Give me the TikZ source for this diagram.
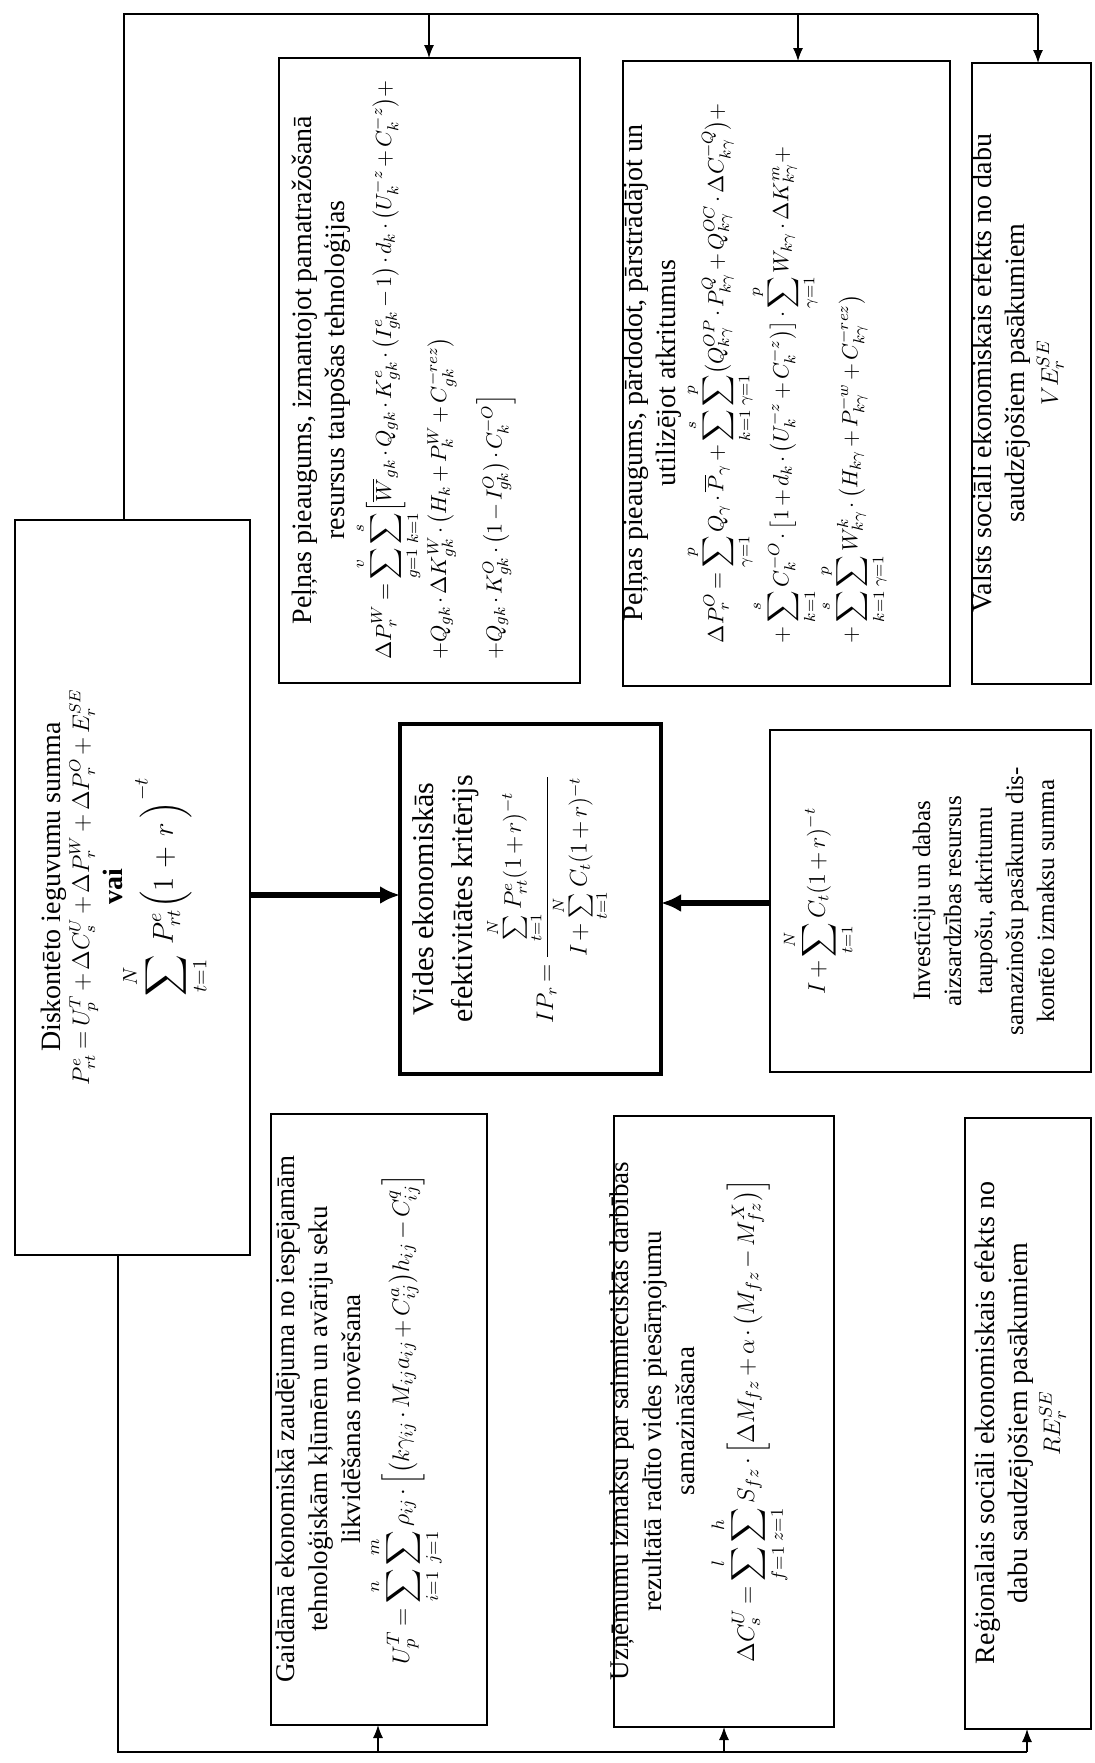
\documentclass[tikz,border=0pt]{standalone}
\usepackage{amsmath}
\usepackage{fontspec}
\setmainfont{Liberation Serif}
\usetikzlibrary{arrows.meta}
\newcommand{\fmA}{\fontsize{11}{13.5}\selectfont}
\newcommand{\fmE}{\fontsize{13}{15.5}\selectfont}
\newcommand{\fmI}{\fontsize{11.5}{14}\selectfont}
\newcommand{\fmP}{\fontsize{12}{14.5}\selectfont}
\begin{document}
\begin{tikzpicture}[x=0.5pt,y=0.5pt,
  box/.style={draw=black,line width=0.8pt,inner sep=0pt,outer sep=0pt},
  mainbox/.style={draw=black,line width=2.2pt,inner sep=0pt,outer sep=0pt},
  txt/.style={rotate=90,align=center,inner sep=0pt,font=\fontsize{14}{16.5}\selectfont},
  fb/.style={draw=black,line width=0.6pt},
  fbarr/.style={fb,-{Latex[length=6.5pt,width=5pt]}},
  bigarr/.style={draw=black,line width=2.6pt,-{Latex[length=10pt,width=9pt]}}
]
\medmuskip=2.5mu plus 1mu minus 1mu
\thickmuskip=3.5mu plus 2mu
\useasboundingbox (0,0) rectangle (1094,-1763);
\fill[white] (0,0) rectangle (1094,-1763);

% boxes
\node[box,minimum width=117.5pt,minimum height=367.5pt] (P) at (132.5,-887.5) {};
\node[box,minimum width=150.5pt,minimum height=312.5pt] (A) at (429.5,-370.5) {};
\node[box,minimum width=163.5pt,minimum height=312.5pt] (B) at (786.5,-373.5) {};
\node[box,minimum width=59.5pt,minimum height=310.5pt] (C) at (1031.5,-373.5) {};
\node[mainbox,minimum width=130.5pt,minimum height=175pt] (IP) at (530.5,-899) {};
\node[box,minimum width=160.5pt,minimum height=171pt] (D) at (930.5,-901) {};
\node[box,minimum width=108pt,minimum height=305.5pt] (E) at (379,-1419.5) {};
\node[box,minimum width=110pt,minimum height=305.5pt] (F) at (724,-1421.5) {};
\node[box,minimum width=63pt,minimum height=305.5pt] (G) at (1028,-1423.5) {};

% texts
\node[txt] (Ptxt) at (125,-887) {Diskontēto ieguvumu summa\\[-2pt]
{\fmP$P^{e}_{rt}=U^{T}_{p}+\Delta C^{U}_{s}+\Delta P^{W}_{r}+\Delta P^{O}_{r}+E^{SE}_{r}$}\\[0pt]
\textbf{vai}\\[-2pt]
{\fontsize{14}{17}\selectfont$\displaystyle\sum_{t=1}^{N}\; P^{e}_{rt}\Bigl(1\;+\;r\,\Bigr)^{-t}$}};

\node[txt] (Atxt) at (404,-370) {Peļņas pieaugums, izmantojot pamatražošanā\\
resursus taupošas tehnoloģijas\\[1pt]
{\fmA\begin{tabular}{@{}l@{}}
$\displaystyle \Delta P^{W}_{r}=\sum_{g=1}^{v}\sum_{k=1}^{s}\Bigl[\overline{W}_{gk}\cdot Q_{gk}\cdot K^{e}_{gk}\cdot\bigl(I^{e}_{gk}-1\bigr)\cdot d_{k}\cdot\bigl(U^{-z}_{k}+C^{-z}_{k}\bigr)+$\\[14pt]
$+Q_{gk}\cdot\Delta K^{W}_{gk}\cdot\bigl(H_{k}+P^{W}_{k}+C^{-rez}_{gk}\bigr)$\\[11pt]
$+Q_{gk}\cdot K^{O}_{gk}\cdot\bigl(1-I^{O}_{gk}\bigr)\cdot C^{-O}_{k}\Bigr]$
\end{tabular}}};

\node[txt] (Btxt) at (756,-373) {Peļņas pieaugums, pārdodot, pārstrādājot un\\
utilizējot atkritumus\\[1pt]
{\fmA\begin{tabular}{@{}l@{}}
$\displaystyle\Delta P^{O}_{r}=\sum_{\gamma=1}^{p}Q_{\gamma}\cdot\overline{P}_{\gamma}+\sum_{k=1}^{s}\sum_{\gamma=1}^{p}\bigl(Q^{OP}_{k\gamma}\cdot P^{Q}_{k\gamma}+Q^{OC}_{k\gamma}\cdot\Delta C^{-Q}_{k\gamma}\bigr)+$\\[-2pt]
$\displaystyle+\sum_{k=1}^{s}C^{-O}_{k}\cdot\bigl[1+d_{k}\cdot\bigl(U^{-z}_{k}+C^{-z}_{k}\bigr)\bigr]\cdot\sum_{\gamma=1}^{p}W_{k\gamma}\cdot\Delta K^{m}_{k\gamma}+$\\[1pt]
$\displaystyle+\sum_{k=1}^{s}\sum_{\gamma=1}^{p}W^{k}_{k\gamma}\cdot\bigl(H_{k\gamma}+P^{-w}_{k\gamma}+C^{-rez}_{k\gamma}\bigr)$
\end{tabular}}};

\node[txt] (Ctxt) at (1018,-373) {Valsts sociāli ekonomiskais efekts no dabu\\
saudzējošiem pasākumiem\\
{\fmE$VE^{SE}_{r}$}};

\node[txt,font=\fontsize{15}{19.5}\selectfont] (IPtxt) at (511,-899) {Vides ekonomiskās\\
efektivitātes kritērijs\\[2pt]
{\fmI$\displaystyle IP_{r}=\frac{\sum\limits_{t=1}^{N}P^{e}_{rt}(1+r)^{-t}}{I+\sum\limits_{t=1}^{N}C_{t}(1+r)^{-t}}$}};

\node[txt,font=\fontsize{12.5}{15.5}\selectfont] (Dtxt) at (918,-901) {{\fmI$\displaystyle I+\sum_{t=1}^{N}C_{t}(1+r)^{-t}$}\\[28pt]
Investīciju un dabas\\
aizsardzības resursus\\
taupošu, atkritumu\\
samazinošu pasākumu dis-\\
kontēto izmaksu summa};

\node[txt,font=\fontsize{13.5}{16.5}\selectfont] (Etxt) at (360,-1419) {Gaidāmā ekonomiskā zaudējuma no iespējamām\\
tehnoloģiskām kļūmēm un avāriju seku\\
likvidēšanas novēršana\\[3pt]
{\fmE$\displaystyle U^{T}_{p}=\sum_{i=1}^{n}\sum_{j=1}^{m}\rho_{ij}\cdot\Bigl[\bigl(k\gamma_{ij}\cdot M_{ij}a_{ij}+C^{a}_{ij}\bigr)h_{ij}-C^{q}_{ij}\Bigr]$}};

\node[txt,font=\fontsize{13.5}{16.5}\selectfont] (Ftxt) at (700,-1421) {Uzņēmumu izmaksu par saimnieciskās darbības\\
rezultātā radīto vides piesārņojumu\\
samazināšana\\[6pt]
{\fmE$\displaystyle\Delta C^{U}_{s}=\sum_{f=1}^{l}\sum_{z=1}^{h}S_{fz}\cdot\Bigl[\Delta M_{fz}+\alpha\cdot\bigl(M_{fz}-M^{X}_{fz}\bigr)\Bigr]$}};

\node[txt] (Gtxt) at (1020,-1423) {Reģionālais sociāli ekonomiskais efekts no\\
dabu saudzējošiem pasākumiem\\
{\fmE$RE^{SE}_{r}$}};

% feedback bus (top)
\coordinate (t0) at (124,-14);
\coordinate (tA) at (429,-14);
\coordinate (tB) at (798,-14);
\coordinate (t3) at (1038,-14);
\draw[fb] (P.north -| t0) -- (t0) -- (t3);
\draw[fbarr] (t3) -- (C.north -| t3);
\draw[fbarr] (tA) -- (A.north -| tA);
\draw[fbarr] (tB) -- (B.north -| tB);

% feedback bus (bottom)
\coordinate (b0) at (118,-1752);
\coordinate (bE) at (378,-1752);
\coordinate (bF) at (724,-1752);
\coordinate (b3) at (1027,-1752);
\draw[fb] (P.south -| b0) -- (b0) -- (b3);
\draw[fbarr] (b3) -- (G.south -| b3);
\draw[fbarr] (bE) -- (E.south -| bE);
\draw[fbarr] (bF) -- (F.south -| bF);

% thick arrows
\coordinate (h1) at (0,-895);
\coordinate (h2) at (0,-903);
\draw[bigarr] (P.east |- h1) -- (IP.west |- h1);
\draw[bigarr] (D.west |- h2) -- (IP.east |- h2);
\end{tikzpicture}
\end{document}
